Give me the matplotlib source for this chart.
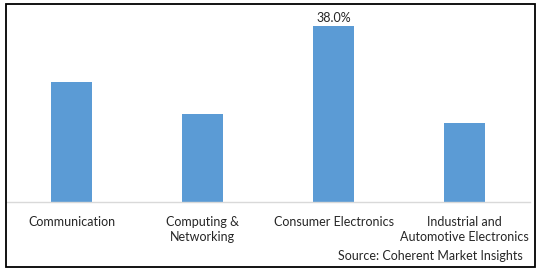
import matplotlib
matplotlib.use("Agg")
import matplotlib.pyplot as plt
from matplotlib.patches import Rectangle

categories = ["Communication", "Computing &\nNetworking", "Consumer Electronics",
              "Industrial and\nAutomotive Electronics"]
values = [25.9, 19.0, 38.0, 17.1]
label_text = "38.0%"
source = "Source: Coherent Market Insights"

plt.rcParams['font.family'] = ['Lato', 'DejaVu Sans']

fig = plt.figure(figsize=(5.38, 2.72), dpi=100)
W, H = 538, 272
left, right = 6 / W, 530 / W
bottom = (H - 202) / H
top = (H - 16.7) / H
ax = fig.add_axes([left, bottom, right - left, top - bottom])

x = list(range(len(categories)))
bars = ax.bar(x, values, width=0.31, color="#5B9BD5", zorder=2)
ax.set_xlim(-0.5, len(categories) - 0.5)
ax.set_ylim(0, 40)
for s in ["top", "right", "left"]:
    ax.spines[s].set_visible(False)
ax.spines["bottom"].set_color("#D9D9D9")
ax.spines["bottom"].set_linewidth(1.0)
ax.set_yticks([])
ax.set_xticks(x)
ax.set_xticklabels(categories, fontsize=9, color="#262626", linespacing=1.3)
ax.tick_params(axis="x", length=0, pad=10)

i_max = values.index(max(values))
ax.text(x[i_max], values[i_max] + 0.5, label_text, ha="center", va="bottom",
        fontsize=9, color="#262626")

fig.text(523 / W, (H - 256) / H, source, ha="right", va="center", fontsize=9, color="#262626")

fig.patches.append(Rectangle((5.5 / W, (H - 267) / H), 529.5 / W, 263 / H,
                             transform=fig.transFigure, fill=False,
                             edgecolor="black", linewidth=1.3))

fig.savefig("out.png", dpi=100)
